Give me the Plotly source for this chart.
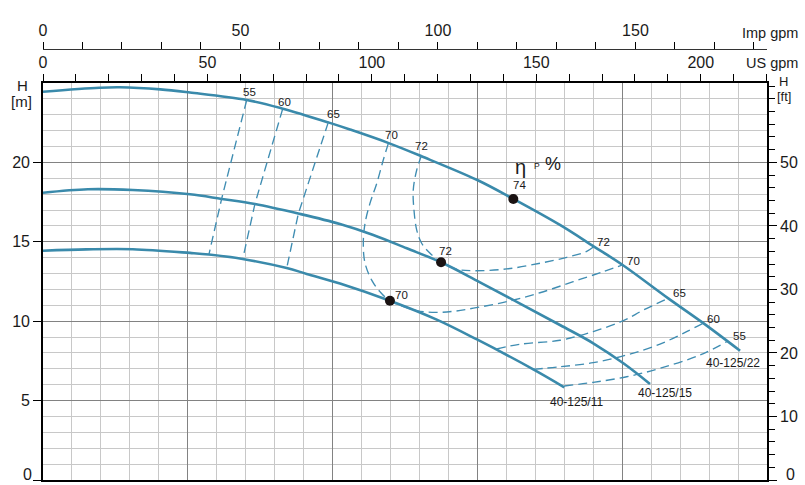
import plotly.graph_objects as go

# ---------------- data (Q in m3/h, H in m) ----------------
q_22 = [0, 3.9, 5.3, 8.1, 10.15, 14.07, 16.5, 19.7, 21.2, 23.83, 26.1, 29.99, 32.48, 35.7, 38.05, 40.03, 43.18, 45.6, 48.14]
h_22 = [24.45, 24.70, 24.73, 24.60, 24.40, 23.93, 23.4, 22.52, 22.07, 21.23, 20.4, 18.89, 17.7, 16.06, 14.70, 13.54, 11.44, 9.88, 8.14]

q_15 = [0, 3.1, 6.2, 10.15, 12.34, 14.64, 17.63, 20.51, 22.81, 25.12, 27.49, 30.18, 35.7, 38.0, 40.08, 41.92]
h_15 = [18.09, 18.31, 18.26, 17.99, 17.70, 17.38, 16.78, 16.12, 15.43, 14.59, 13.71, 12.45, 9.76, 8.61, 7.35, 6.05]

q_11 = [0, 3.0, 6.2, 10.15, 11.46, 13.79, 16.83, 18.21, 20.51, 23.96, 27.19, 29.97, 33.86, 36.0]
h_11 = [14.44, 14.52, 14.53, 14.30, 14.20, 13.92, 13.35, 12.98, 12.38, 11.29, 10.10, 8.85, 6.97, 5.84]

curve_names = ["40-125/22", "40-125/15", "40-125/11"]

# best efficiency points
q_bep = [32.48, 27.49, 23.96]
h_bep = [17.7, 13.71, 11.29]
eff_bep = ["74", "72", "70"]

# iso-efficiency lines
eff55_l_q = [14.07, 12.34, 11.46]
eff55_l_h = [23.93, 17.72, 14.21]
eff60_l_q = [16.55, 14.64, 13.79]
eff60_l_h = [23.36, 17.40, 13.90]
eff65_l_q = [19.70, 17.63, 16.83]
eff65_l_h = [22.52, 16.76, 13.34]

eff70_q = [23.85, 23.50, 23.05, 22.58, 22.24, 22.12, 22.24, 22.70, 23.27, 23.96, 25.81, 27.19, 28.34, 29.72, 32.02, 34.32, 36.62, 38.70, 40.03]
eff70_h = [21.20, 20.15, 18.68, 17.42, 16.16, 14.91, 13.65, 12.59, 11.86, 11.29, 10.67, 10.56, 10.62, 10.82, 11.23, 11.79, 12.49, 13.12, 13.54]

eff72_q = [26.15, 25.81, 25.57, 25.62, 25.81, 26.15, 26.73, 27.49, 28.57, 29.72, 32.02, 34.32, 36.17, 37.55, 38.05]
eff72_h = [20.47, 19.52, 18.26, 17.00, 15.74, 14.91, 14.28, 13.71, 13.27, 13.18, 13.29, 13.65, 14.02, 14.40, 14.70]

eff65_r_q = [31.33, 32.94, 35.70, 38.0, 40.08, 41.46, 43.18]
eff65_r_h = [8.25, 8.55, 8.80, 9.35, 10.03, 10.70, 11.44]
eff60_r_q = [33.86, 35.70, 38.0, 40.31, 42.61, 44.45, 45.6]
eff60_r_h = [6.97, 7.13, 7.39, 7.87, 8.56, 9.34, 9.88]
eff55_r_q = [36.0, 38.0, 40.31, 42.61, 45.37, 47.22]
eff55_r_h = [5.92, 6.15, 6.50, 7.03, 7.87, 8.71]

# axis definitions
q_max = 50            # m3/h
h_max = 25            # m
usgpm_max = q_max * 4.40287
impgpm_max = q_max * 3.66615
ft_max = 62.5

# ---------------- styling ----------------
BLUE = "#3a8aab"
DASH_BLUE = "#3f8db2"
FONT = "Liberation Sans, Arial, sans-serif"

fig = go.Figure()

for q, h, n in zip([q_22, q_15, q_11], [h_22, h_15, h_11], curve_names):
    fig.add_trace(go.Scatter(x=q, y=h, mode="lines", name=n,
                             line=dict(color=BLUE, width=2.6, shape="spline", smoothing=1.0),
                             hoverinfo="skip"))

iso = [(eff55_l_q, eff55_l_h, "linear"), (eff60_l_q, eff60_l_h, "linear"), (eff65_l_q, eff65_l_h, "linear"),
       (eff70_q, eff70_h, "spline"), (eff72_q, eff72_h, "spline"),
       (eff65_r_q, eff65_r_h, "spline"), (eff60_r_q, eff60_r_h, "spline"), (eff55_r_q, eff55_r_h, "spline")]
for q, h, shp in iso:
    fig.add_trace(go.Scatter(x=q, y=h, mode="lines",
                             line=dict(color=DASH_BLUE, width=1.35, dash="9px,5px", shape=shp),
                             hoverinfo="skip"))

fig.add_trace(go.Scatter(x=q_bep, y=h_bep, mode="markers",
                         marker=dict(color="#1a1212", size=10), hoverinfo="skip"))

# dummy traces to activate secondary axes
fig.add_trace(go.Scatter(x=[0], y=[0], xaxis="x2", yaxis="y", mode="markers", marker=dict(opacity=0), hoverinfo="skip"))
fig.add_trace(go.Scatter(x=[0], y=[0], xaxis="x3", yaxis="y", mode="markers", marker=dict(opacity=0), hoverinfo="skip"))
fig.add_trace(go.Scatter(x=[0], y=[0], xaxis="x", yaxis="y2", mode="markers", marker=dict(opacity=0), hoverinfo="skip"))

# ---------------- text labels ----------------
ann = []
def lab(x, y, t, size=11.5, **kw):
    ann.append(dict(x=x, y=y, text=t, showarrow=False, xref="x", yref="y",
                    font=dict(family=FONT, size=size, color="#1a1a1a"), **kw))

label_pos = [
    (14.26, 24.42, "55"), (16.68, 23.82, "60"), (20.03, 23.02, "65"),
    (24.08, 21.71, "70"), (26.13, 21.05, "72"),
    (32.94, 18.56, eff_bep[0]), (27.83, 14.45, eff_bep[1]), (24.77, 11.63, eff_bep[2]),
    (38.69, 14.99, "72"), (40.79, 13.78, "70"), (43.94, 11.78, "65"),
    (46.32, 10.11, "60"), (48.10, 9.06, "55"),
]
for x, y, t in label_pos:
    lab(x, y, t)
lab(47.63, 7.39, curve_names[0], size=12)
lab(42.98, 5.47, curve_names[1], size=12)
lab(36.81, 4.92, curve_names[2], size=12)
lab(32.99, 19.73, "η", size=20)
lab(34.12, 19.77, "P", size=8.5)
lab(35.22, 19.92, "%", size=18)

# paper-pixel helpers
W, Hh = 805, 485
ML, MR, MT, MB = 43, 38, 49, 5
def px(xp):
    return (xp - ML) / (W - ML - MR)
def py(yp):
    return (Hh - MB - yp) / (Hh - MT - MB)

def plab(xp, yp, t, size=15, xanchor="center"):
    ann.append(dict(x=px(xp), y=py(yp), xref="paper", yref="paper", text=t, showarrow=False,
                    xanchor=xanchor, yanchor="middle",
                    font=dict(family=FONT, size=size, color="#1a1a1a")))

plab(800, 33, "Imp gpm", 14.5, "right")
plab(800, 63, "US gpm", 14.5, "right")
plab(22, 85, "H", 15)
plab(21, 101, "[m]", 15)
plab(783, 81.5, "H", 13)
plab(784, 96.5, "[ft]", 13)
plab(27, 474, "0", 16)
plab(791, 474, "0", 16)

ydom = [0, (Hh - MB - 83) / (Hh - MT - MB)]

GRID_MAJ = "#828282"
GRID_MIN = "#c8c8c8"
tickfont = dict(family=FONT, size=16, color="#1a1a1a")

fig.update_layout(
    width=W, height=Hh, autosize=False,
    margin=dict(l=ML, r=MR, t=MT, b=MB, pad=0),
    paper_bgcolor="white", plot_bgcolor="white",
    showlegend=False,
    annotations=ann,
    xaxis=dict(range=[0, q_max], domain=[0, 1], dtick=10, tick0=0,
               showgrid=True, gridcolor=GRID_MAJ, gridwidth=1.2,
               minor=dict(dtick=2, showgrid=True, gridcolor=GRID_MIN, gridwidth=1),
               showticklabels=False, ticks="", zeroline=False,
               showline=True, linecolor="black", linewidth=1.6),
    yaxis=dict(range=[0, h_max], domain=ydom, dtick=5, tick0=0,
               tickvals=[0, 5, 10, 15, 20], ticktext=["", "5", "10", "15", "20"],
               showgrid=True, gridcolor=GRID_MAJ, gridwidth=1.2,
               minor=dict(dtick=1, showgrid=True, gridcolor=GRID_MIN, gridwidth=1),
               ticks="outside", ticklen=8, tickcolor="black", tickwidth=1.2,
               tickfont=tickfont, zeroline=False,
               showline=True, linecolor="black", linewidth=1.6),
    yaxis2=dict(range=[0, ft_max], overlaying="y", side="right", anchor="x",
                tickvals=[0, 10, 20, 30, 40, 50], ticktext=["", "10", "20", "30", "40", "50"],
                showgrid=False, zeroline=False,
                minor=dict(dtick=2, ticks="outside", ticklen=6, tickcolor="black", showgrid=False),
                ticks="outside", ticklen=8, tickcolor="black", tickwidth=1.2,
                tickfont=tickfont,
                showline=True, linecolor="black", linewidth=1.6),
    xaxis2=dict(range=[0, usgpm_max], overlaying="x", side="top", anchor="y",
                dtick=50, tick0=0, showgrid=False, zeroline=False,
                minor=dict(dtick=10, ticks="outside", ticklen=7, tickcolor="black", showgrid=False),
                ticks="outside", ticklen=7, tickcolor="black", tickwidth=1.2,
                tickfont=tickfont,
                showline=True, linecolor="black", linewidth=1.6),
    xaxis3=dict(range=[0, impgpm_max], overlaying="x", side="top", anchor="free", position=1,
                dtick=50, tick0=0, showgrid=False, zeroline=False,
                minor=dict(dtick=10, ticks="outside", ticklen=7, tickcolor="black", showgrid=False),
                ticks="outside", ticklen=7, tickcolor="black", tickwidth=1.2,
                tickfont=tickfont,
                showline=True, linecolor="#333333", linewidth=1.2),
)

fig.write_html("out.html", config={"displayModeBar": False},
               post_script="document.body.style.margin='0';document.body.style.padding='0';")
